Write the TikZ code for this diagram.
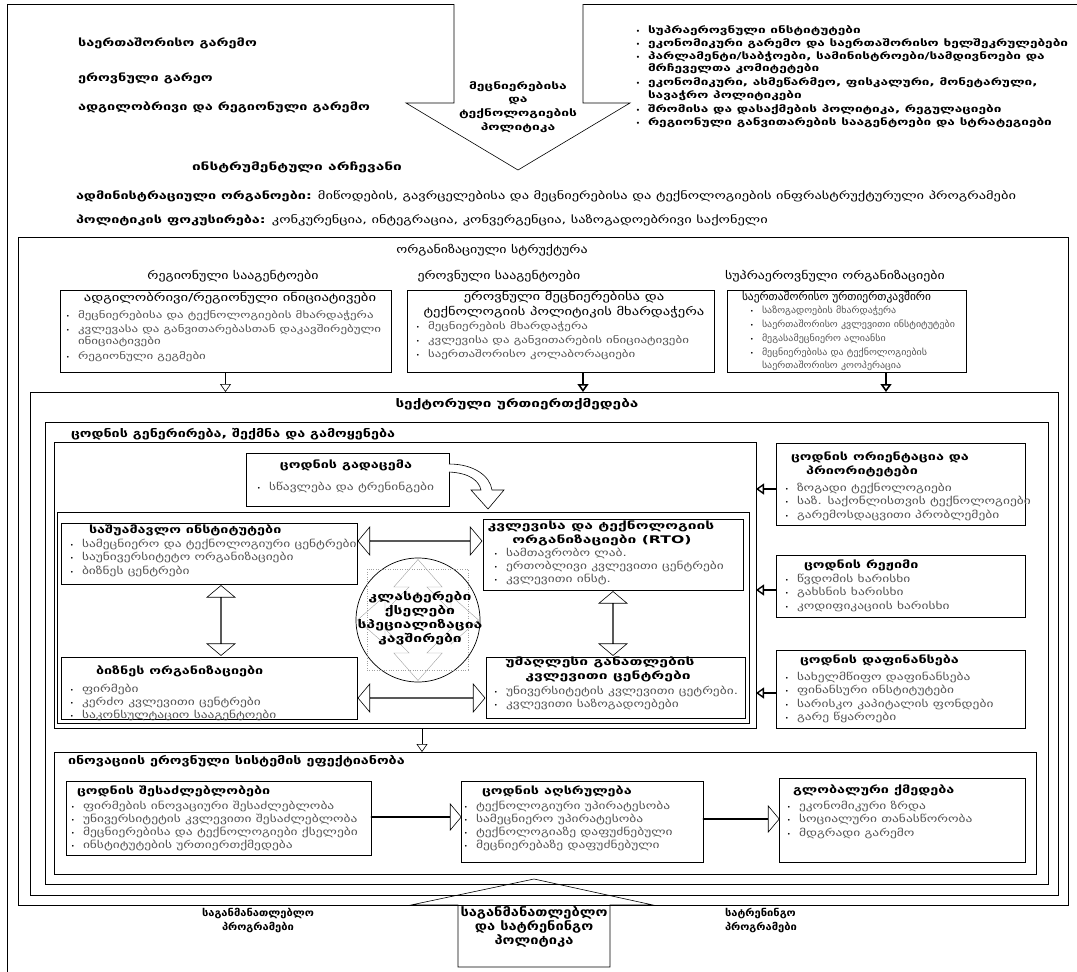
\documentclass[tikz,border=0pt]{standalone}
\usepackage{fontspec}
\usepackage{graphicx}
\setmainfont{DejaVu Sans}
\usetikzlibrary{arrows.meta,shapes.arrows,calc}
\definecolor{bodygray}{HTML}{555555}
\definecolor{stargray}{HTML}{A0A0A0}
% font set-ups
\newcommand\fEnv{\bfseries\fontsize{10.5}{12}\selectfont}
\newcommand\fList{\bfseries\fontsize{9.5}{10}\selectfont}
\newcommand\fArr{\bfseries\fontsize{9.5}{13.7}\selectfont}
\newcommand\fAdm{\fontsize{10.5}{12}\selectfont}
\newcommand\fHead{\fontsize{11}{12}\selectfont}
\newcommand\fOT{\fontsize{11}{12}\selectfont}
\newcommand\fOB{\fontsize{9.5}{10}\selectfont}
\newcommand\fSB{\fontsize{9}{10}\selectfont}
\newcommand\fBody{\fontsize{10}{10}\selectfont}
\newcommand\fTitle{\bfseries\fontsize{10.5}{12}\selectfont}
\newcommand\fLab{\bfseries\fontsize{11}{12}\selectfont}
\newcommand\fCirc{\bfseries\fontsize{11}{14}\selectfont}
\newcommand\fBig{\bfseries\fontsize{12}{14}\selectfont}
\newcommand\fProg{\bfseries\fontsize{10}{14}\selectfont}
% horizontal scale factor that brings a sample text to a given width
\newsavebox\measbox
\newcommand\calib[3]{\sbox\measbox{#3}\pgfmathsetmacro#1{#2/\the\wd\measbox}}
\newcommand\hsx[2]{\scalebox{#1}[1]{#2}}
% width factors for each group of texts
\AtBeginDocument{%
\calib\kEnv{292}{\fEnv ადგილობრივი და რეგიონული გარემო}%
\calib\kInstr{210}{\fEnv ინსტრუმენტული არჩევანი}%
\calib\kList{404}{\fList რეგიონული განვითარების სააგენტოები და სტრატეგიები}%
\calib\kArr{118}{\fArr ტექნოლოგიების}%
\calib\kAdm{940}{\fAdm\textbf{ადმინისტრაციული ორგანოები:} მიწოდების, გავრცელებისა და მეცნიერებისა და ტექნოლოგიების ინფრასტრუქტურული პროგრამები}%
\calib\kHd{745}{\fHead ორგანიზაციული სტრუქტურარეგიონული სააგენტოებიეროვნული სააგენტოებისუპრაეროვნული ორგანიზაციები}%
\calib\kOT{573}{\fOT ადგილობრივი/რეგიონული ინიციატივებიტექნოლოგიის პოლიტიკის მხარდაჭერა}%
\calib\kOB{564}{\fOB კვლევასა და განვითარებასთან დაკავშირებულიკვლევისა და განვითარების ინიციატივები}%
\calib\kST{189}{\fOT საერთაშორისო ურთიერთკავშირი}%
\calib\kSB{193}{\fSB საერთაშორისო კვლევითი ინსტიტუტები}%
\calib\kSect{243}{\fLab სექტორული ურთიერთქმედება}%
\calib\kLab{661}{\fLab ცოდნის გენერირება, შექმნა და გამოყენებაინოვაციის ეროვნული სისტემის ეფექტიანობა}%
\calib\kTi{1448}{\fTitle საშუამავლო ინსტიტუტებიბიზნეს ორგანიზაციებიცოდნის გადაცემაცოდნის რეჟიმიცოდნის დაფინანსებაცოდნის ორიენტაცია დაცოდნის შესაძლებლობებიცოდნის აღსრულებაგლობალური ქმედება}%
\calib\kTb{416}{\fTitle კვლევისა და ტექნოლოგიისუმაღლესი განათლების}%
\calib\kB{2309}{\fBody სამეცნიერო და ტექნოლოგიური ცენტრებისაკონსულტაციო სააგენტოებიერთობლივი კვლევითი ცენტრებიუნივერსიტეტის კვლევითი ცეტრები.სწავლება და ტრენინგებისაზ. საქონლისთვის ტექნოლოგიებიკოდიფიკაციის ხარისხისარისკო კაპიტალის ფონდებიუნივერსიტეტის კვლევითი შესაძლებლობატექნოლოგიური უპირატესობასოციალური თანასწორობა}%
\calib\kCirc{125}{\fCirc სპეციალიზაცია}%
\calib\kBig{147}{\fBig საგანმანათლებლო}%
\calib\kProg{112}{\fProg საგანმანათლებლო}%
}
% rectangle node given by its corners: name, x1, y1, x2, y2
\newcommand\mkbox[5]{\node[frm,minimum width={#4pt-#2pt},minimum height={#5pt-#3pt}] (#1) at (#2,#3) {};}
% one line of text: [style]{name}{x}{y}{scale}{text}
\newcommand\Ltext[6][]{\node[txt,#1] (#2) at (#3,#4) {\hsx{#5}{#6}};}
% one bulleted line: [style]{name}{x}{y}{scale}{text}
\newcommand\Lbul[6][]{\node[bd,#1] (#2) at (#3,#4) {\makebox[12pt][l]{\textcolor{black}{\fontsize{6}{6}\selectfont •}}\hsx{#5}{#6}};}
\begin{document}
\begin{tikzpicture}[x=1pt,y=-1pt,
  every node/.style={inner sep=0pt,outer sep=0pt},
  frm/.style={draw,line width=0.8pt,anchor=north west},
  txt/.style={anchor=west,text height=7pt,text depth=2pt},
  envs/.style={txt,font=\fEnv},
  toplist/.style={font=\fList,text=black},
  hd/.style={txt,font=\fTitle},
  hdc/.style={hd,anchor=center},
  ot/.style={txt,font=\fOT},
  otc/.style={ot,anchor=center},
  bd/.style={txt,font=\fBody,text=bodygray},
  ob/.style={font=\fOB},
  sb/.style={font=\fSB},
  lab/.style={txt,font=\fLab},
  colhead/.style={txt,anchor=center,font=\fHead},
  blk/.style={draw,fill=white,line width=0.6pt},
  dbl/.style={double arrow,draw,fill=white,line width=0.6pt,double arrow head extend=10pt,double arrow tip angle=100,inner sep=0pt},
  sgl/.style={single arrow,draw,fill=white,line width=0.6pt,single arrow head extend=8pt,single arrow tip angle=100,inner sep=0pt},
  opena/.style={-{Triangle[open,length=8pt,width=11pt]},line width=0.9pt},
]
\useasboundingbox (0,0) rectangle (1077,972);

% page frame
\draw[line width=0.8pt] (7,972) -- (7,4) -- (1077,4);

% science and technology policy arrow
\draw[blk] (454,4) -- (454,103) -- (406,103) -- (518,170) -- (630,103) -- (583,103) -- (583,4);
\node[font=\fArr,align=center] (stpol) at (518,107) {\hsx\kArr{მეცნიერებისა}\\\hsx\kArr{და}\\\hsx\kArr{ტექნოლოგიების}\\\hsx\kArr{პოლიტიკა}};

% environments
\Ltext[envs]{env1}{78}{44}{\kEnv}{საერთაშორისო გარემო}
\Ltext[envs]{env2}{78}{79}{\kEnv}{ეროვნული გარეო}
\Ltext[envs]{env3}{78}{108}{\kEnv}{ადგილობრივი და რეგიონული გარემო}

% policy instruments list
\Lbul[toplist]{p1}{636}{31}{\kList}{სუპრაეროვნული ინსტიტუტები}
\Lbul[toplist]{p2}{636}{44}{\kList}{ეკონომიკური გარემო და საერთაშორისო ხელშეკრულებები}
\Lbul[toplist]{p3}{636}{57}{\kList}{პარლამენტი/საბჭოები, სამინისტროები/სამდივნოები და}
\Ltext[toplist]{p3b}{648}{69}{\kList}{მრჩეველთა კომიტეტები}
\Lbul[toplist]{p4}{636}{83}{\kList}{ეკონომიკური, ასმეწარმეო, ფისკალური, მონეტარული,}
\Ltext[toplist]{p4b}{648}{96}{\kList}{სავაჭრო პოლიტიკები}
\Lbul[toplist]{p5}{636}{110}{\kList}{შრომისა და დასაქმების პოლიტიკა, რეგულაციები}
\Lbul[toplist]{p6}{636}{123}{\kList}{რეგიონული განვითარების სააგენტოები და სტრატეგიები}

\Ltext[envs]{instr}{192}{168}{\kInstr}{ინსტრუმენტული არჩევანი}
\Ltext[font=\fAdm]{adm}{76}{197}{\kAdm}{\textbf{ადმინისტრაციული ორგანოები:} მიწოდების, გავრცელებისა და მეცნიერებისა და ტექნოლოგიების ინფრასტრუქტურული პროგრამები}
\Ltext[font=\fAdm]{foc}{76}{221}{\kAdm}{\textbf{პოლიტიკის ფოკუსირება:} კონკურენცია, ინტეგრაცია, კონვერგენცია, საზოგადოებრივი საქონელი}

% organisational structure
\mkbox{org}{18}{237}{1068}{905}
\node[colhead] (orgt) at (492,251) {\hsx\kHd{ორგანიზაციული სტრუქტურა}};
\node[colhead] (hreg) at (233,277) {\hsx\kHd{რეგიონული სააგენტოები}};
\node[colhead] (hnat) at (499,277) {\hsx\kHd{ეროვნული სააგენტოები}};
\node[colhead] (hsup) at (835,277) {\hsx\kHd{სუპრაეროვნული ორგანიზაციები}};

\mkbox{rbox}{60}{290}{391}{372}
\node[otc] (rt) at (230,299) {\hsx\kOT{ადგილობრივი/რეგიონული ინიციატივები}};
\Lbul[ob]{r1}{66}{316}{\kOB}{მეცნიერებისა და ტექნოლოგიების მხარდაჭერა}
\Lbul[ob]{r2}{66}{330}{\kOB}{კვლევასა და განვითარებასთან დაკავშირებული}
\Ltext[bd,ob]{r2b}{78}{342}{\kOB}{ინიციატივები}
\Lbul[ob]{r3}{66}{357}{\kOB}{რეგიონული გეგმები}

\mkbox{nbox}{407}{290}{714}{372}
\node[otc] (nt1) at (564,298) {\hsx\kOT{ეროვნული მეცნიერებისა და}};
\node[otc] (nt2) at (564,313) {\hsx\kOT{ტექნოლოგიის პოლიტიკის მხარდაჭერა}};
\Lbul[ob]{n1}{416}{327}{\kOB}{მეცნიერების მხარდაჭერა}
\Lbul[ob]{n2}{416}{341}{\kOB}{კვლევისა და განვითარების ინიციატივები}
\Lbul[ob]{n3}{416}{355}{\kOB}{საერთაშორისო კოლაბორაციები}

\mkbox{sbox}{727}{290}{966}{372}
\Ltext[ot]{st}{742}{298}{\kST}{საერთაშორისო ურთიერთკავშირი}
\Lbul[sb]{s1}{750}{311}{\kSB}{საზოგადოების მხარდაჭერა}
\Lbul[sb]{s2}{750}{325}{\kSB}{საერთაშორისო კვლევითი ინსტიტუტები}
\Lbul[sb]{s3}{750}{339}{\kSB}{მეგასამეცნიერო ალიანსი}
\Lbul[sb]{s4}{750}{353}{\kSB}{მეცნიერებისა და ტექნოლოგიების}
\Ltext[bd,sb]{s4b}{762}{366}{\kSB}{საერთაშორისო კოოპერაცია}

% sectoral interaction
\mkbox{sect}{30}{392}{1058}{895}
\node[lab,anchor=center] (sectt) at (517,405) {\hsx\kSect{სექტორული ურთიერთქმედება}};
\draw[opena,line width=0.6pt] (rbox.south) -- (rbox.south |- sect.north);
\coordinate (na) at (583,372);
\draw[opena,line width=1.6pt] (na) -- (na |- sect.north);
\coordinate (sa) at (886,372);
\draw[opena,line width=1.6pt] (sa) -- (sa |- sect.north);

% knowledge generation
\mkbox{kg}{45}{422}{1048}{884}
\Ltext[lab]{kgt}{71}{435}{\kLab}{ცოდნის გენერირება, შექმნა და გამოყენება}
\mkbox{kgin}{54}{442}{756}{728}

\mkbox{trans}{246}{453}{449}{506}
\node[hdc] (trt) at (346,466) {\hsx\kTi{ცოდნის გადაცემა}};
\Lbul{tr1}{257}{488}{\kB}{სწავლება და ტრენინგები}
\draw[blk] (449,464) .. controls (474,464) and (490,476) .. (492,490) -- (504,490) -- (488,509) -- (471,490) -- (481,490) .. controls (479,481) and (470,473) .. (449,472);

\mkbox{inst}{57}{512}{749}{723}

\mkbox{inter}{61}{523}{357}{584}
\Ltext[hd]{intt}{89}{531}{\kTi}{საშუამავლო ინსტიტუტები}
\Lbul{i1}{70}{545}{\kB}{სამეცნიერო და ტექნოლოგიური ცენტრები}
\Lbul{i2}{70}{558}{\kB}{საუნივერსიტეტო ორგანიზაციები}
\Lbul{i3}{70}{572}{\kB}{ბიზნეს ცენტრები}

\mkbox{bus}{61}{657}{357}{719}
\Ltext[hd]{bust}{96}{672}{\kTi}{ბიზნეს ორგანიზაციები}
\Lbul{b1}{70}{690}{\kB}{ფირმები}
\Lbul{b2}{70}{703}{\kB}{კერძო კვლევითი ცენტრები}
\Lbul{b3}{70}{716}{\kB}{საკონსულტაციო სააგენტოები}

\mkbox{rto}{483}{519}{743}{590}
\node[hdc] (rtot1) at (601,527) {\hsx\kTb{კვლევისა და ტექნოლოგიის}};
\node[hdc] (rtot2) at (602,541) {\hsx\kTb{ორგანიზაციები (RTO)}};
\Lbul{o1}{494}{554}{\kB}{სამთავრობო ლაბ.}
\Lbul{o2}{494}{567}{\kB}{ერთობლივი კვლევითი ცენტრები}
\Lbul{o3}{494}{580}{\kB}{კვლევითი ინსტ.}

\mkbox{hed}{486}{657}{745}{718}
\node[hdc] (hedt1) at (600,663) {\hsx\kTb{უმაღლესი განათლების}};
\node[hdc] (hedt2) at (608,677) {\hsx\kTb{კვლევითი ცენტრები}};
\Lbul{h1}{494}{692}{\kB}{უნივერსიტეტის კვლევითი ცეტრები.}
\Lbul{h2}{494}{705}{\kB}{კვლევითი საზოგადოებები}

% links between the four institution groups
\node[dbl,minimum height=124pt,minimum width=28pt] (a1) at ($(inter.east|-0,541)!0.5!(rto.west|-0,541)$) {};
\node[dbl,minimum height=127pt,minimum width=28pt] (a2) at ($(bus.east|-0,698)!0.5!(hed.west|-0,698)$) {};
\node[dbl,minimum height=70pt,minimum width=28pt,shape border rotate=90] (a3) at (221,620.5) {};
\node[dbl,minimum height=64pt,minimum width=28pt,shape border rotate=90] (a4) at (613,623.5) {};

% clusters circle
\node[draw,circle,minimum size=124pt,line width=0.7pt] (clu) at (418,620) {};
\begin{scope}[shift={(clu.center)},draw=stargray,line width=0.4pt,scale=1.1]
  \draw[dotted] (-46,-46) rectangle (46,46);
  \draw (-8,-30) -- (-22,-30) -- (0,-55) -- (22,-30) -- (8,-30) -- (30,-8) -- (30,-22) -- (55,0) -- (30,22) -- (30,8) -- (8,30) -- (22,30) -- (0,55) -- (-22,30) -- (-8,30) -- (-30,8) -- (-30,22) -- (-55,0) -- (-30,-22) -- (-30,-8) -- cycle;
\end{scope}
\node[font=\fCirc,align=center] (clut) at (420,618) {\hsx\kCirc{კლასტერები}\\\hsx\kCirc{ქსელები}\\\hsx\kCirc{სპეციალიზაცია}\\\hsx\kCirc{კავშირები}};

% knowledge orientation, regime, funding
\mkbox{ori}{776}{443}{1025}{525}
\node[hdc] (orit1) at (880,458) {\hsx\kTi{ცოდნის ორიენტაცია და}};
\node[hdc] (orit2) at (862,472) {\hsx\kTi{პრიორიტეტები}};
\Lbul{or1}{785}{489}{\kB}{ზოგადი ტექნოლოგიები}
\Lbul{or2}{785}{502}{\kB}{საზ. საქონლისთვის ტექნოლოგიები}
\Lbul{or3}{785}{516}{\kB}{გარემოსდაცვითი პრობლემები}

\mkbox{reg}{776}{555}{1025}{617}
\Ltext[hd]{regt}{804}{566}{\kTi}{ცოდნის რეჟიმი}
\Lbul{rg1}{785}{580}{\kB}{წვდომის ხარისხი}
\Lbul{rg2}{785}{593}{\kB}{გახსნის ხარისხი}
\Lbul{rg3}{785}{607}{\kB}{კოდიფიკაციის ხარისხი}

\mkbox{fin}{776}{650}{1025}{728}
\Ltext[hd]{fint}{800}{661}{\kTi}{ცოდნის დაფინანსება}
\Lbul{f1}{785}{678}{\kB}{სახელმწიფო დაფინანსება}
\Lbul{f2}{785}{691}{\kB}{ფინანსური ინსტიტუტები}
\Lbul{f3}{785}{705}{\kB}{სარისკო კაპიტალის ფონდები}
\Lbul{f4}{785}{718}{\kB}{გარე წყაროები}

\coordinate (oa) at ($(ori.west)+(0,5)$);
\coordinate (ra) at ($(reg.west)+(0,4)$);
\coordinate (fa) at ($(fin.west)+(0,4)$);
\draw[opena,line width=1.4pt] (oa) -- (oa -| kgin.east);
\draw[opena,line width=1.4pt] (ra) -- (ra -| kgin.east);
\draw[opena,line width=1.4pt] (fa) -- (fa -| kgin.east);

% effectiveness of the national innovation system
\mkbox{inn}{54}{752}{1036}{874}
\Ltext[lab]{innt}{68}{762}{\kLab}{ინოვაციის ეროვნული სისტემის ეფექტიანობა}
\coordinate (da) at (422,728);
\draw[opena,line width=0.6pt] (da) -- (da |- inn.north);

\mkbox{cap}{66}{781}{371}{855}
\Ltext[hd]{capt}{77}{792}{\kTi}{ცოდნის შესაძლებლობები}
\Lbul{c1}{71}{807}{\kB}{ფირმების ინოვაციური შესაძლებლობა}
\Lbul{c2}{71}{820}{\kB}{უნივერსიტეტის კვლევითი შესაძლებლობა}
\Lbul{c3}{71}{833}{\kB}{მეცნიერებისა და ტექნოლოგიები ქსელები}
\Lbul{c4}{71}{846}{\kB}{ინსტიტუტების ურთიერთქმედება}

\mkbox{perf}{461}{781}{703}{862}
\Ltext[hd]{perft}{482}{792}{\kTi}{ცოდნის აღსრულება}
\Lbul{e1}{464}{807}{\kB}{ტექნოლოგიური უპირატესობა}
\Lbul{e2}{464}{820}{\kB}{სამეცნიერო უპირატესობა}
\Lbul{e3}{464}{833}{\kB}{ტექნოლოგიაზე დაფუძნებული}
\Lbul{e4}{464}{846}{\kB}{მეცნიერებაზე დაფუძნებული}

\mkbox{glob}{779}{778}{1025}{862}
\Ltext[hd]{globt}{793}{791}{\kTi}{გლობალური ქმედება}
\Lbul{g1}{787}{807}{\kB}{ეკონომიკური ზრდა}
\Lbul{g2}{787}{820}{\kB}{სოციალური თანასწორობა}
\Lbul{g3}{787}{834}{\kB}{მდგრადი გარემო}

\node[sgl,minimum height=90pt,minimum width=26pt] (a5) at ($(cap.east|-0,817)!0.5!(perf.west|-0,817)$) {};
\node[sgl,minimum height=76pt,minimum width=26pt] (a6) at ($(perf.east|-0,819)!0.5!(glob.west|-0,819)$) {};

% education and training policy arrow
\draw[line width=0.6pt] (458,967) -- (458,905) -- (411,905) -- (534,879) -- (653,905) -- (610,905) -- (610,967) -- cycle;
\node[font=\fBig,align=center] (etpol) at (534,927) {\hsx\kBig{საგანმანათლებლო}\\\hsx\kBig{და სატრენინგო}\\\hsx\kBig{პოლიტიკა}};
\node[font=\fProg,align=center] (edu) at (258,921) {\hsx\kProg{საგანმანათლებლო}\\\hsx\kProg{პროგრამები}};
\node[font=\fProg,align=left,anchor=west] (trn) at (725,921) {\hsx\kProg{სატრენინგო}\\\hsx\kProg{პროგრამები}};
\end{tikzpicture}
\end{document}
